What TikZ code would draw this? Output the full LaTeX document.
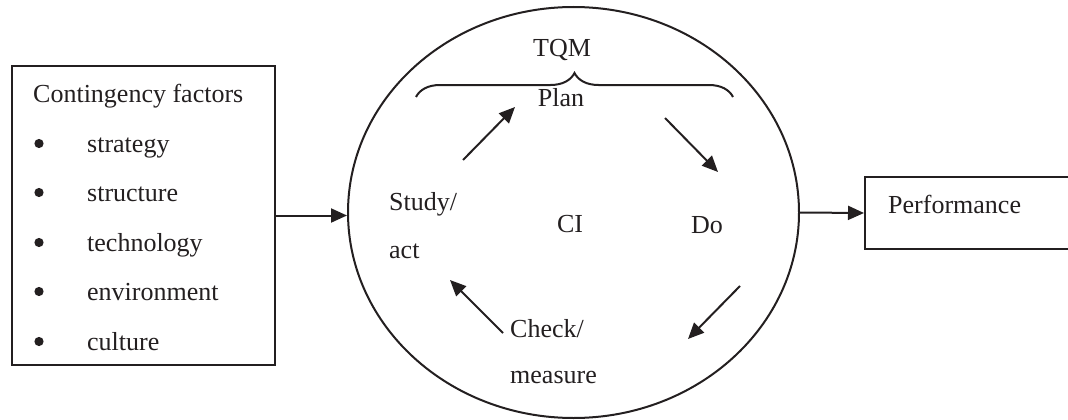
\documentclass[tikz,border=0pt]{standalone}
\usepackage{fontspec}
\setmainfont{Liberation Serif}
\usetikzlibrary{shapes.geometric,arrows.meta,decorations.pathreplacing}
\definecolor{ink}{RGB}{35,31,32}
\begin{document}
\begin{tikzpicture}[x=1pt,y=-1pt,
  lbl/.style={inner sep=0pt, anchor=base west, text=ink, font=\fontsize{26}{31}\selectfont},
  frame/.style={draw=ink, line width=2pt, inner sep=0pt},
  arr/.style={draw=ink, line width=2pt, -{Triangle[length=16pt,width=14pt]}},
  bullet/.style={fill=ink}]
\useasboundingbox (0,0) rectangle (1068,420);
\clip (0,0) rectangle (1068,420);

% contingency factors box
\node[frame, minimum width=263pt, minimum height=299pt] (factors) at (143.5,215.5) {};
\node[lbl] (head) at (33,102) {Contingency factors};
\foreach \name/\txt/\yb in {i1/strategy/152, i2/structure/201, i3/technology/251,
                            i4/environment/300, i5/culture/350}{
  \fill[bullet] (39,\yb-8.5) circle (4.6pt);
  \node[lbl] (\name) at (87,\yb) {\txt};
}

% TQM / CI cycle
\node[frame, ellipse, minimum width=451pt, minimum height=411pt] (cycle) at (573.5,212.5) {};
\node[lbl, anchor=base] (tqm) at (562,57) {TQM};
\coordinate (bl) at (416,97);
\coordinate (br) at (733,97);
\draw[draw=ink, line width=2pt, decorate, decoration={brace, amplitude=24pt}] (bl) -- (br);
\node[lbl, anchor=base] (plan) at (561,106) {Plan};
\node[lbl] (study) at (389,210) {Study/};
\node[lbl] (act) at (389,258) {act};
\node[lbl, anchor=base] (ci) at (570,232) {CI};
\node[lbl, anchor=base] (do) at (707,233) {Do};
\node[lbl] (check) at (510,337) {Check/};
\node[lbl] (measure) at (510,383) {measure};

% cycle arrows
\coordinate (s1) at (463,160); \coordinate (e1) at (515,107);
\coordinate (s2) at (665,118); \coordinate (e2) at (718,172);
\coordinate (s3) at (740,286); \coordinate (e3) at (688,339);
\coordinate (s4) at (503,333); \coordinate (e4) at (450,280);
\draw[arr] (s1) -- (e1);
\draw[arr] (s2) -- (e2);
\draw[arr] (s3) -- (e3);
\draw[arr] (s4) -- (e4);

% performance box
\node[frame, minimum width=210pt, minimum height=72pt] (perf) at (970,213) {};
\node[lbl] (perftxt) at (888,213) {Performance};

% connectors
\draw[arr] (factors.east) -- (factors.east -| cycle.west);
\draw[arr] (cycle.east) -- (perf.west);
\end{tikzpicture}
\end{document}
